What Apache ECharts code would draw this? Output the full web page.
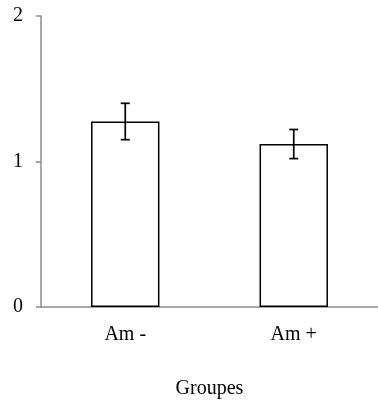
<!DOCTYPE html>
<html>
<head>
<meta charset="utf-8">
<script src="https://cdn.jsdelivr.net/npm/echarts@6/dist/echarts.min.js"></script>
<style>
  html, body { margin: 0; padding: 0; background: #fff; }
  #chart { width: 378px; height: 404px; }
</style>
</head>
<body>
<div id="chart"></div>
<script>
const categories = ['Am -', 'Am +']
const means = [1.275, 1.12]
const errors = [0.125, 0.10]
const yTicks = [0, 1, 2]

const font = '"Liberation Serif", "Times New Roman", serif'
const chart = echarts.init(document.getElementById('chart'), null, { renderer: 'canvas' })

chart.setOption({
  animation: false,
  grid: { left: 41, right: -3, top: 16, bottom: 88, containLabel: false },
  xAxis: {
    type: 'category',
    data: categories,
    name: 'Groupes',
    nameLocation: 'middle',
    nameGap: 72,
    nameTextStyle: { fontFamily: font, fontSize: 20, color: '#000' },
    axisLine: { lineStyle: { color: '#8c8c8c', width: 1.5 } },
    axisTick: { show: false },
    axisLabel: { fontFamily: font, fontSize: 20, color: '#000', margin: 18 }
  },
  yAxis: {
    type: 'value',
    min: yTicks[0],
    max: yTicks[yTicks.length - 1],
    interval: 1,
    splitLine: { show: false },
    axisLine: { show: true, lineStyle: { color: '#8c8c8c', width: 1.5 } },
    axisTick: { show: true, length: 5, lineStyle: { color: '#8c8c8c', width: 1.5 } },
    axisLabel: { fontFamily: font, fontSize: 20, color: '#000', margin: 18 }
  },
  series: [
    {
      type: 'bar',
      data: means,
      barWidth: '40.6%',
      itemStyle: { color: '#fff', borderColor: '#000', borderWidth: 1.5 }
    },
    {
      type: 'custom',
      data: means.map((m, i) => [i, m - errors[i], m + errors[i]]),
      z: 10,
      renderItem(params, api) {
        const lo = api.coord([api.value(0), api.value(1)])
        const hi = api.coord([api.value(0), api.value(2)])
        const x = lo[0]
        const cap = 4.5
        const style = { stroke: '#000', lineWidth: 1.7 }
        return {
          type: 'group',
          children: [
            { type: 'line', shape: { x1: x, y1: lo[1], x2: x, y2: hi[1] }, style },
            { type: 'line', shape: { x1: x - cap, y1: lo[1], x2: x + cap, y2: lo[1] }, style },
            { type: 'line', shape: { x1: x - cap, y1: hi[1], x2: x + cap, y2: hi[1] }, style }
          ]
        }
      }
    }
  ]
})
</script>
</body>
</html>
